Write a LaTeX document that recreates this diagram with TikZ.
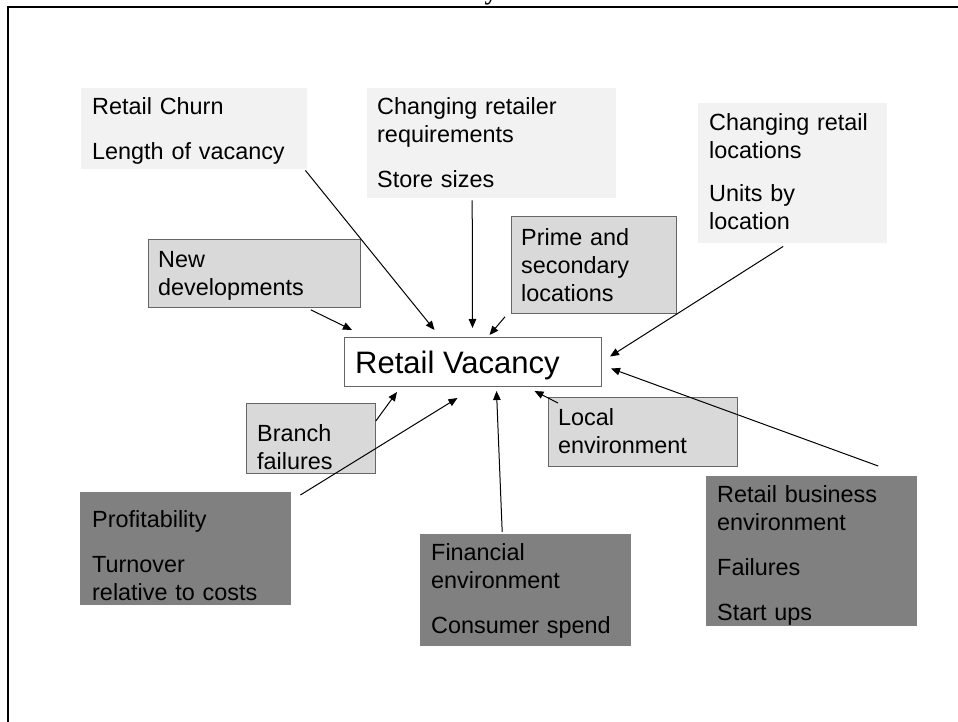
\documentclass[tikz,border=0pt]{standalone}
\usepackage{fontspec}
\newfontfamily\arialf{Liberation Sans}
\newfontfamily\timesf{Liberation Serif}
\usetikzlibrary{arrows.meta}
\definecolor{lightbox}{HTML}{F2F2F2}
\definecolor{midbox}{HTML}{D9D9D9}
\definecolor{darkbox}{HTML}{808080}
\definecolor{edgegray}{HTML}{666666}
\tikzset{
  boxbase/.style={rectangle, inner sep=0pt, anchor=north west},
  lightfill/.style={boxbase, fill=lightbox},
  midfill/.style={boxbase, fill=midbox, draw=edgegray, line width=0.8pt},
  darkfill/.style={boxbase, fill=darkbox},
  centerbox/.style={boxbase, fill=white, draw=edgegray, line width=1pt},
  lbl/.style={inner sep=0pt, anchor=base west, align=left,
    font=\arialf\fontsize{23.4}{28}\selectfont},
  conn/.style={line width=1pt, -{Triangle[length=9pt,width=7.5pt]}},
}
\begin{document}
\begin{tikzpicture}[x=1pt,y=-1pt]
\useasboundingbox (0,0) rectangle (958,722);
% frame
\draw[line width=2.5pt] (961,7) -- (8,7) -- (8,725);
\node[inner sep=0pt, anchor=base, font=\timesf\bfseries\fontsize{26}{26}\selectfont] (ycut) at (491,0) {y};

% boxes
\node[lightfill, minimum width=226pt, minimum height=81pt] (churn) at (81,88) {};
\node[lightfill, minimum width=249pt, minimum height=110pt] (req) at (367,88) {};
\node[lightfill, minimum width=189pt, minimum height=140pt] (loc) at (698,103) {};
\node[midfill, minimum width=212pt, minimum height=68pt] (newdev) at (148,239) {};
\node[midfill, minimum width=165pt, minimum height=97pt] (prime) at (511,216) {};
\node[centerbox, minimum width=257pt, minimum height=49pt] (center) at (344,337) {};
\node[midfill, minimum width=129pt, minimum height=70pt] (branch) at (246,403) {};
\node[midfill, minimum width=189pt, minimum height=69pt] (local) at (548,397) {};
\node[darkfill, minimum width=211pt, minimum height=113pt] (profit) at (80,492) {};
\node[darkfill, minimum width=211pt, minimum height=112pt] (fin) at (420,534) {};
\node[darkfill, minimum width=211pt, minimum height=150pt] (biz) at (706,476) {};

% texts
\node[lbl, text width=212pt] (tchurn) at (92,115) {Retail Churn\\[17pt]Length of vacancy};
\node[lbl, text width=236pt] (treq) at (377,115) {Changing retailer\\requirements\\[17pt]Store sizes};
\node[lbl, text width=176pt] (tloc) at (709,131) {Changing retail\\locations\\[15pt]Units by\\location};
\node[lbl, text width=200pt] (tnewdev) at (158,267) {New\\developments};
\node[lbl, text width=152pt] (tprime) at (521,245) {Prime and\\secondary\\locations};
\node[inner sep=0pt, anchor=base west, font=\arialf\fontsize{31}{36}\selectfont] (tcenter) at (355,373) {Retail Vacancy};
\node[lbl, text width=116pt] (tbranch) at (257,441) {Branch\\failures};
\node[lbl, text width=177pt] (tlocal) at (558,425) {Local\\environment};
\node[lbl, text width=198pt] (tprofit) at (92,527) {Profitability\\[17pt]Turnover\\relative to costs};
\node[lbl, text width=198pt] (tfin) at (431,560) {Financial\\environment\\[17pt]Consumer spend};
\node[lbl, text width=198pt] (tbiz) at (717,502) {Retail business\\environment\\[17pt]Failures\\[17pt]Start ups};

% connectors
\draw[conn] ([xshift=-2pt,yshift=-1pt]churn.south east) -- ([xshift=-38.5pt,yshift=7pt]center.north);
\draw[conn] ([xshift=-19.5pt,yshift=-2pt]req.south) -- ([xshift=-0.5pt,yshift=9pt]center.north);
\draw[conn] ([xshift=-6pt,yshift=-3pt]prime.south west) -- ([xshift=16.5pt,yshift=2pt]center.north);
\draw[conn] ([xshift=-9.5pt,yshift=-3pt]loc.south) -- ([xshift=8pt,yshift=5.5pt]center.east);
\draw[conn] ([xshift=-50pt,yshift=-2pt]newdev.south east) -- ([xshift=8pt,yshift=7pt]center.north west);
\draw[conn] ([xshift=66.5pt,yshift=10pt]biz.north) -- ([xshift=9pt,yshift=-6.5pt]center.east);
\draw[conn] ([yshift=-18pt]branch.north east) -- ([xshift=53pt,yshift=-5pt]center.south west);
\draw[conn] ([xshift=9pt,yshift=-3pt]profit.north east) -- ([xshift=-15.5pt,yshift=-11pt]center.south);
\draw[conn] ([xshift=-23.5pt,yshift=2pt]fin.north) -- ([xshift=23.5pt,yshift=-4pt]center.south);
\draw[conn] ([xshift=10pt,yshift=-6pt]local.north west) -- ([xshift=61.5pt,yshift=-4pt]center.south);
\end{tikzpicture}
\end{document}
